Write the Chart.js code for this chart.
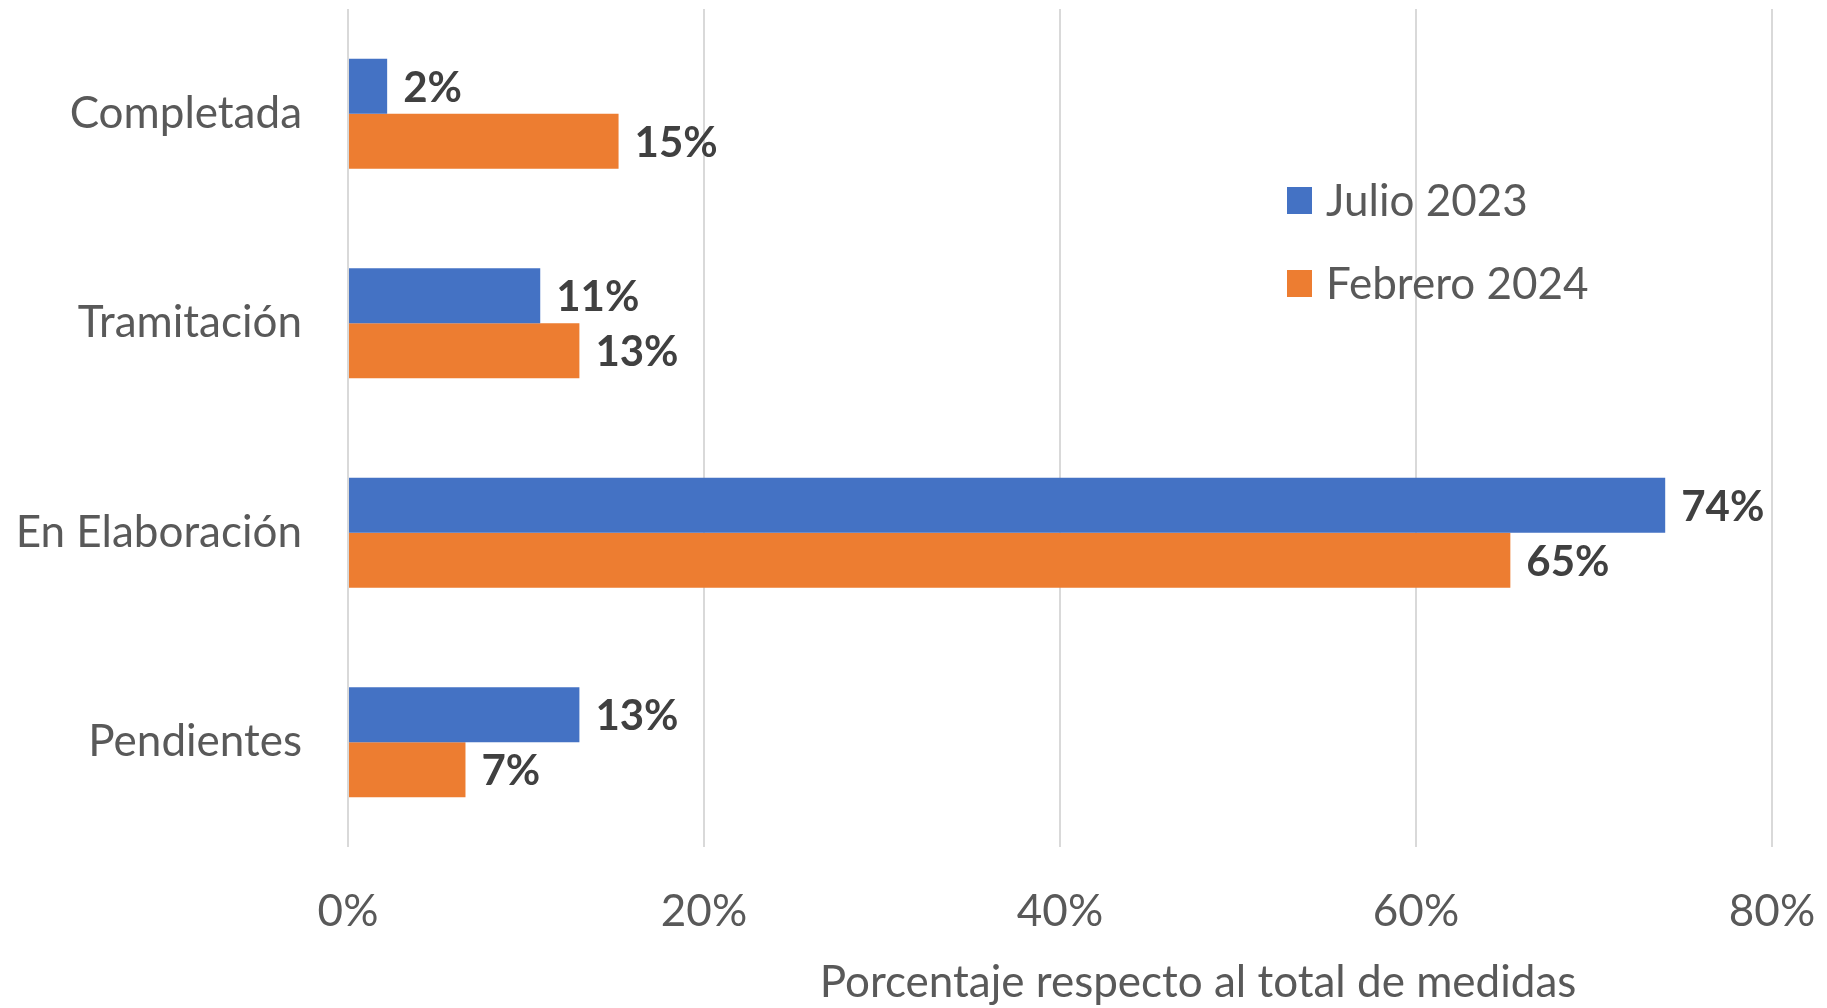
<!DOCTYPE html>
<html lang="es">
<head>
  <meta charset="UTF-8">
  <title>Estado de las medidas</title>
  <script src="https://cdn.jsdelivr.net/npm/chart.js"></script>
  <style>
    html, body { margin: 0; padding: 0; background: #fff; }
    #wrap { width: 1827px; height: 1008px; position: relative; }
  </style>
</head>
<body>
  <div id="wrap"><canvas id="chart"></canvas></div>

  <script>
    // datos (porcentaje respecto al total de medidas)
    const categorias = ['Completada', 'Tramitación', 'En Elaboración', 'Pendientes'];
    const julio2023 = [2.2, 10.8, 74.0, 13.0];
    const febrero2024 = [15.2, 13.0, 65.3, 6.6];
    const series = ['Julio 2023', 'Febrero 2024'];
    const colores = ['#4472C4', '#ED7D31'];
    const ticksX = [0, 20, 40, 60, 80];
    const tituloX = 'Porcentaje respecto al total de medidas';

    const FONT = 'Lato, "Open Sans", sans-serif';
    const GRIS = '#595959';

    // etiquetas de valor al final de cada barra
    const etiquetas = {
      id: 'etiquetas',
      afterDatasetsDraw(chart) {
        const ctx = chart.ctx;
        ctx.save();
        ctx.font = 'bold 42px ' + FONT;
        ctx.fillStyle = '#404040';
        ctx.textAlign = 'left';
        ctx.textBaseline = 'middle';
        chart.data.datasets.forEach((ds, i) => {
          chart.getDatasetMeta(i).data.forEach((bar, j) => {
            ctx.fillText(Math.round(ds.data[j]) + '%', bar.x + 16, bar.y + 2);
          });
        });
        ctx.restore();
      }
    };

    // leyenda dentro del área del gráfico y título del eje
    const leyenda = {
      id: 'leyenda',
      afterDraw(chart) {
        const ctx = chart.ctx;
        ctx.save();
        ctx.font = '44px ' + FONT;
        ctx.textBaseline = 'middle';
        ctx.textAlign = 'left';
        chart.data.datasets.forEach((ds, i) => {
          const y = 200 + i * 83;
          ctx.fillStyle = ds.backgroundColor;
          ctx.fillRect(1287, y - 13, 25, 27);
          ctx.fillStyle = GRIS;
          ctx.fillText(ds.label, 1326, y + 2);
        });
        ctx.textAlign = 'center';
        ctx.fillText(tituloX, 1198, 983);
        ctx.restore();
      }
    };

    new Chart(document.getElementById('chart'), {
      type: 'bar',
      data: {
        labels: categorias,
        datasets: [
          { label: series[0], data: julio2023, backgroundColor: colores[0] },
          { label: series[1], data: febrero2024, backgroundColor: colores[1] }
        ]
      },
      options: {
        indexAxis: 'y',
        responsive: true,
        maintainAspectRatio: false,
        animation: false,
        layout: { padding: { top: 9, right: 55, left: 0, bottom: 0 } },
        datasets: { bar: { categoryPercentage: 0.526, barPercentage: 1.0 } },
        plugins: {
          legend: { display: false },
          tooltip: { enabled: false }
        },
        scales: {
          x: {
            min: 0,
            max: 80,
            afterBuildTicks(scale) { scale.ticks = ticksX.map(v => ({ value: v })); },
            afterFit(scale) { scale.height = 161; scale.paddingLeft = 0; scale.paddingRight = 0; },
            grid: { color: '#D9D9D9', lineWidth: 2, drawTicks: false },
            border: { display: false },
            ticks: {
              color: GRIS,
              font: { family: FONT, size: 44 },
              padding: 38,
              callback: v => v + '%'
            }
          },
          y: {
            afterFit(scale) { scale.width = 348; scale.paddingTop = 0; scale.paddingBottom = 0; },
            grid: { display: false },
            border: { display: false },
            ticks: {
              color: GRIS,
              font: { family: FONT, size: 44 },
              padding: 38
            }
          }
        }
      },
      plugins: [etiquetas, leyenda]
    });
  </script>
</body>
</html>
